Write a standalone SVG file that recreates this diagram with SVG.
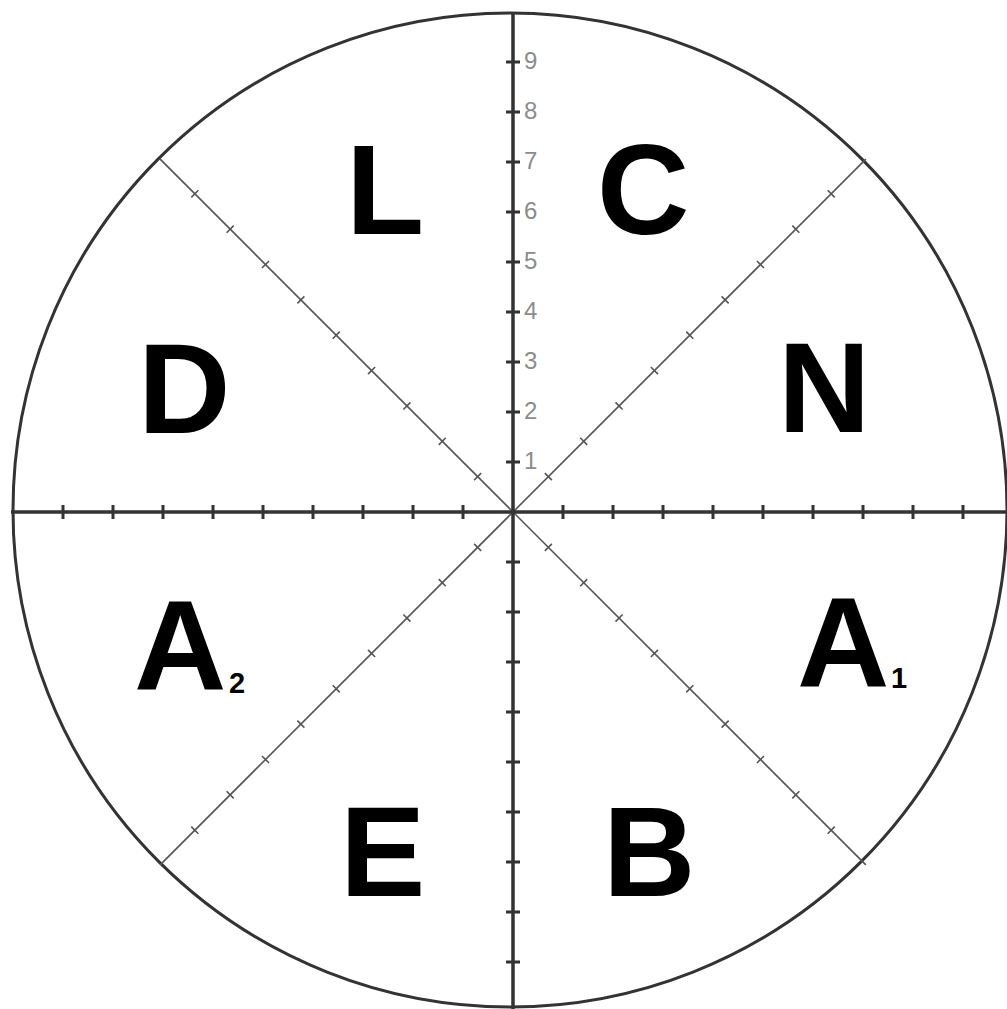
<svg xmlns="http://www.w3.org/2000/svg" xmlns:xlink="http://www.w3.org/1999/xlink" width="1007" height="1009" viewBox="0 0 1007 1009">
  <style>
    .big { font-family: "Liberation Sans", Arial, sans-serif; font-weight: bold; font-size: 128px; fill: #000; }
    .sub { font-family: "Liberation Sans", Arial, sans-serif; font-weight: bold; font-size: 29px; fill: #000; }
    .num { font-family: "Liberation Sans", Arial, sans-serif; font-size: 24px; fill: #8c8c8c; }
    .axis { stroke: #333; stroke-width: 3.5; fill: none; }
    .tick { stroke: #333; stroke-width: 3; fill: none; }
    .diag { stroke: #555; stroke-width: 1.6; fill: none; }
    .rim { stroke: #333; stroke-width: 3; fill: none; }
  </style>
  <defs>
    <g id="ray">
      <line class="diag" x1="0" y1="0" x2="499" y2="0"/>
      <path class="diag" d="M50,-5V5M100,-5V5M150,-5V5M200,-5V5M250,-5V5M300,-5V5M350,-5V5M400,-5V5M450,-5V5"/>
    </g>
  </defs>
  <rect width="1007" height="1009" fill="#fff"/>
  <g id="connectors">
    <circle id="rim" class="rim" cx="510" cy="510" r="497"/>
    <g id="diagonals">
      <use xlink:href="#ray" transform="translate(513,512) rotate(-45)"/>
      <use xlink:href="#ray" transform="translate(513,512) rotate(-135)"/>
      <use xlink:href="#ray" transform="translate(513,512) rotate(45)"/>
      <use xlink:href="#ray" transform="translate(513,512) rotate(135)"/>
    </g>
    <line class="axis" x1="11" y1="512" x2="1007" y2="512"/>
    <line class="axis" x1="513" y1="12" x2="513" y2="1009"/>
    <path class="tick" d="M63,505V519M113,505V519M163,505V519M213,505V519M263,505V519M313,505V519M363,505V519M413,505V519M463,505V519M563,505V519M613,505V519M663,505V519M713,505V519M763,505V519M813,505V519M863,505V519M913,505V519M963,505V519"/>
    <path class="tick" d="M506,62H520M506,112H520M506,162H520M506,212H520M506,262H520M506,312H520M506,362H520M506,412H520M506,462H520M506,562H520M506,612H520M506,662H520M506,712H520M506,762H520M506,812H520M506,862H520M506,912H520M506,962H520"/>
  </g>
  <g id="scale-labels">
    <text class="num" x="524" y="469">1</text>
    <text class="num" x="524" y="419">2</text>
    <text class="num" x="524" y="369">3</text>
    <text class="num" x="524" y="319">4</text>
    <text class="num" x="524" y="269">5</text>
    <text class="num" x="524" y="219">6</text>
    <text class="num" x="524" y="169">7</text>
    <text class="num" x="524" y="119">8</text>
    <text class="num" x="524" y="69">9</text>
  </g>
  <g id="node-L"><text class="big" x="346" y="234">L</text></g>
  <g id="node-C"><text class="big" x="597" y="234">C</text></g>
  <g id="node-D"><text class="big" x="138" y="433">D</text></g>
  <g id="node-N"><text class="big" x="778" y="432">N</text></g>
  <g id="node-A2"><text class="big" x="134" y="690">A</text><text class="sub" x="229" y="693">2</text></g>
  <g id="node-A1"><text class="big" x="797" y="687">A</text><text class="sub" x="891" y="688">1</text></g>
  <g id="node-E"><text class="big" x="340" y="896">E</text></g>
  <g id="node-B"><text class="big" x="603" y="896">B</text></g>
</svg>
